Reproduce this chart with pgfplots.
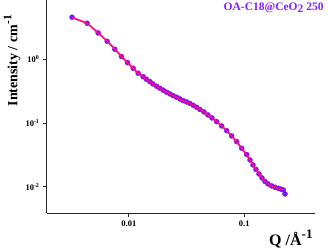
\documentclass[border=0pt]{standalone}
\usepackage{pgfplots}
\pgfplotsset{compat=1.18}
\usepackage{fontspec}
\setmainfont{Liberation Serif}
\definecolor{mk}{RGB}{120,20,255}
\definecolor{fitc}{RGB}{255,10,130}
\definecolor{ttl}{RGB}{130,30,255}
\pgfplotstableread{
Q I
0.003220 4.563
0.004347 3.674
0.005418 2.588
0.006483 1.917
0.007562 1.435
0.008643 1.099
0.009743 0.8844
0.01090 0.7224
0.01204 0.6029
0.01330 0.5330
0.01418 0.4853
0.01521 0.4450
0.01615 0.4095
0.01739 0.3768
0.01857 0.3505
0.01984 0.3272
0.02123 0.3044
0.02268 0.2853
0.02422 0.2683
0.02593 0.2532
0.02769 0.2381
0.02957 0.2239
0.03165 0.2136
0.03381 0.2023
0.03611 0.1896
0.03865 0.1764
0.04128 0.1629
0.04472 0.1489
0.04845 0.1335
0.05248 0.1198
0.05763 0.1048
0.06368 0.0897
0.07038 0.0757
0.07775 0.0625
0.08591 0.0509
0.09495 0.0401
0.1049 0.0320
0.1121 0.02625
0.1190 0.02191
0.1263 0.01862
0.1341 0.01583
0.1424 0.01370
0.1512 0.01207
0.1606 0.01103
0.1728 0.01026
0.1846 0.00979
0.1972 0.00944
0.2082 0.00914
0.2180 0.00888
0.2254 0.00768
}\datatab
\pgfplotstableread{
Q I
0.003220 4.50
0.004347 3.62
0.005418 2.58
0.006483 1.92
0.007562 1.44
0.008643 1.10
0.009743 0.885
0.01090 0.722
0.01204 0.603
0.01330 0.533
0.01521 0.445
0.01739 0.377
0.01984 0.327
0.02268 0.285
0.02593 0.253
0.02957 0.224
0.03381 0.202
0.03865 0.176
0.04472 0.149
0.05248 0.120
0.06368 0.0897
0.07775 0.0625
0.09495 0.0401
0.1121 0.0263
0.1263 0.0186
0.1424 0.0137
0.1606 0.0110
0.1846 0.00979
0.2082 0.00914
0.2200 0.00900
}\fittab
\begin{document}
\begin{tikzpicture}
\begin{axis}[
  at={(47pt,34.7pt)}, anchor=south west,
  scale only axis, width=268pt, height=213.3pt,
  xmode=log, ymode=log,
  xmin=0.001954, xmax=0.410, ymin=0.00382, ymax=8.5,
  axis x line*=bottom, axis y line*=left,
  axis line style={-, line width=1pt, black!85},
  tick align=outside, tick style={black!85, line width=0.8pt}, major tick length=4pt,
  xminorticks=false, yminorticks=false,
  xtick={0.01,0.1}, xticklabels={0.01,0.1},
  ytick={0.01,0.1,1},
  yticklabels={10\textsuperscript{-2},10\textsuperscript{-1},10\textsuperscript{0}},
  tick label style={font=\fontsize{8.5}{9}\selectfont\bfseries},
  xlabel={Q /Å\raisebox{0.42em}{\fontsize{13}{13}\selectfont -1}},
  ylabel={Intensity / cm\raisebox{0.42em}{\fontsize{11.5}{11.5}\selectfont -1}},
  x label style={at={(axis description cs:0.91,-0.12)}, anchor=center, font=\fontsize{16}{17}\selectfont\bfseries},
  y label style={at={(axis description cs:-0.13,0.715)}, anchor=center, font=\fontsize{14}{15}\selectfont\bfseries},
  clip=false, clip marker paths=true,
]
\addplot[only marks, mark=*, mark size=2.5pt, color=mk, mark options={draw=mk, fill=mk}] table[x=Q, y=I] {\datatab};
\addplot[smooth, color=fitc, line width=1.7pt, no markers] table[x=Q, y=I] {\fittab};
\node[anchor=east, text=ttl, font=\fontsize{11.5}{12}\selectfont\bfseries] at (axis description cs:1.045,0.962) {OA-C18@CeO\raisebox{-0.3ex}{2} 250};
\end{axis}
\pgfresetboundingbox
\path[use as bounding box] (0,0) rectangle (329pt,248pt);
\end{tikzpicture}
\end{document}
